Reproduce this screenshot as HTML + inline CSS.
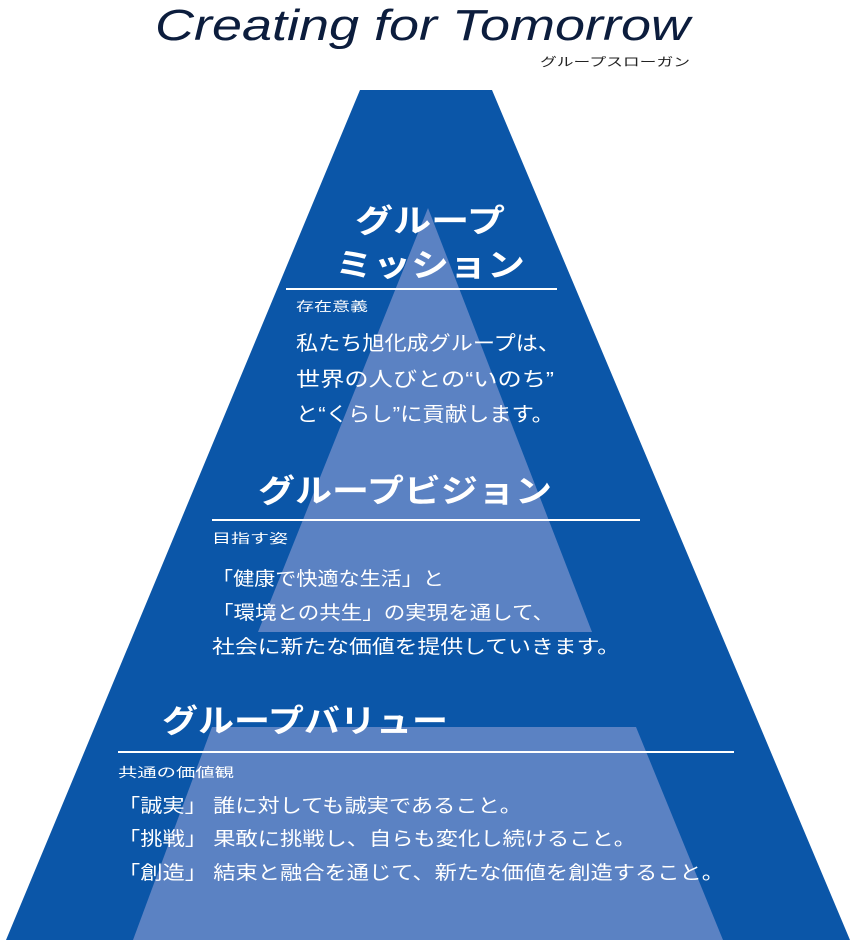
<!DOCTYPE html>
<html><head><meta charset="utf-8"><style>
html,body{margin:0;padding:0;background:#fff;}
svg{display:block;}
.j{font-family:"Liberation Sans","Noto Sans CJK JP",sans-serif;fill:#fff;}
</style></head><body>
<svg width="852" height="940" viewBox="0 0 852 940" xmlns="http://www.w3.org/2000/svg">
<rect width="852" height="940" fill="#fff"/>
<text x="155" y="40" font-family="Liberation Sans, sans-serif" font-style="italic" font-size="44" fill="#0c1d3d" textLength="535" lengthAdjust="spacingAndGlyphs">Creating for Tomorrow</text>
<text x="540" y="66" font-family="Liberation Sans, Noto Sans CJK JP, sans-serif" font-size="12" fill="#222" textLength="150" lengthAdjust="spacingAndGlyphs">グループスローガン</text>
<polygon points="360,90 492,90 850,940 6,940" fill="#0b56a8"/>
<polygon points="428,208 592,632 258,632" fill="#5b82c3"/>
<polygon points="212,727 636,727 723,940 133,940" fill="#5b82c3"/>
<g class="j">
<text x="430" y="232" font-size="32" font-weight="bold" text-anchor="middle" textLength="150" lengthAdjust="spacingAndGlyphs">グループ</text>
<text x="430" y="276" font-size="32" font-weight="bold" text-anchor="middle" textLength="190" lengthAdjust="spacingAndGlyphs">ミッション</text>
<rect x="286" y="288" width="271" height="2"/>
<text x="296" y="311" font-size="13" textLength="72" lengthAdjust="spacingAndGlyphs">存在意義</text>
<text x="296" y="350" font-size="20" textLength="264" lengthAdjust="spacingAndGlyphs">私たち旭化成グループは、</text>
<text x="296" y="386" font-size="20" textLength="258" lengthAdjust="spacingAndGlyphs">世界の人びとの“いのち”</text>
<text x="296" y="421" font-size="20" textLength="258" lengthAdjust="spacingAndGlyphs">と“くらし”に貢献します。</text>
<text x="258" y="502" font-size="32" font-weight="bold" textLength="294" lengthAdjust="spacingAndGlyphs">グループビジョン</text>
<rect x="212" y="519" width="428" height="2"/>
<text x="212" y="543" font-size="13" textLength="76" lengthAdjust="spacingAndGlyphs">目指す姿</text>
<text x="212" y="585" font-size="19" textLength="232" lengthAdjust="spacingAndGlyphs">「健康で快適な生活」と</text>
<text x="212" y="619" font-size="19" textLength="342" lengthAdjust="spacingAndGlyphs">「環境との共生」の実現を通して、</text>
<text x="212" y="653" font-size="19" textLength="408" lengthAdjust="spacingAndGlyphs">社会に新たな価値を提供していきます。</text>
<text x="162" y="732" font-size="32" font-weight="bold" textLength="286" lengthAdjust="spacingAndGlyphs">グループバリュー</text>
<rect x="118" y="751" width="616" height="2"/>
<text x="118" y="777" font-size="13" textLength="116" lengthAdjust="spacingAndGlyphs">共通の価値観</text>
<text x="118" y="812" font-size="19" textLength="404" lengthAdjust="spacingAndGlyphs">「誠実」 誰に対しても誠実であること。</text>
<text x="118" y="845" font-size="19" textLength="518" lengthAdjust="spacingAndGlyphs">「挑戦」 果敢に挑戦し、自らも変化し続けること。</text>
<text x="118" y="879" font-size="19" textLength="606" lengthAdjust="spacingAndGlyphs">「創造」 結束と融合を通じて、新たな価値を創造すること。</text>
</g>
</svg>
</body></html>
